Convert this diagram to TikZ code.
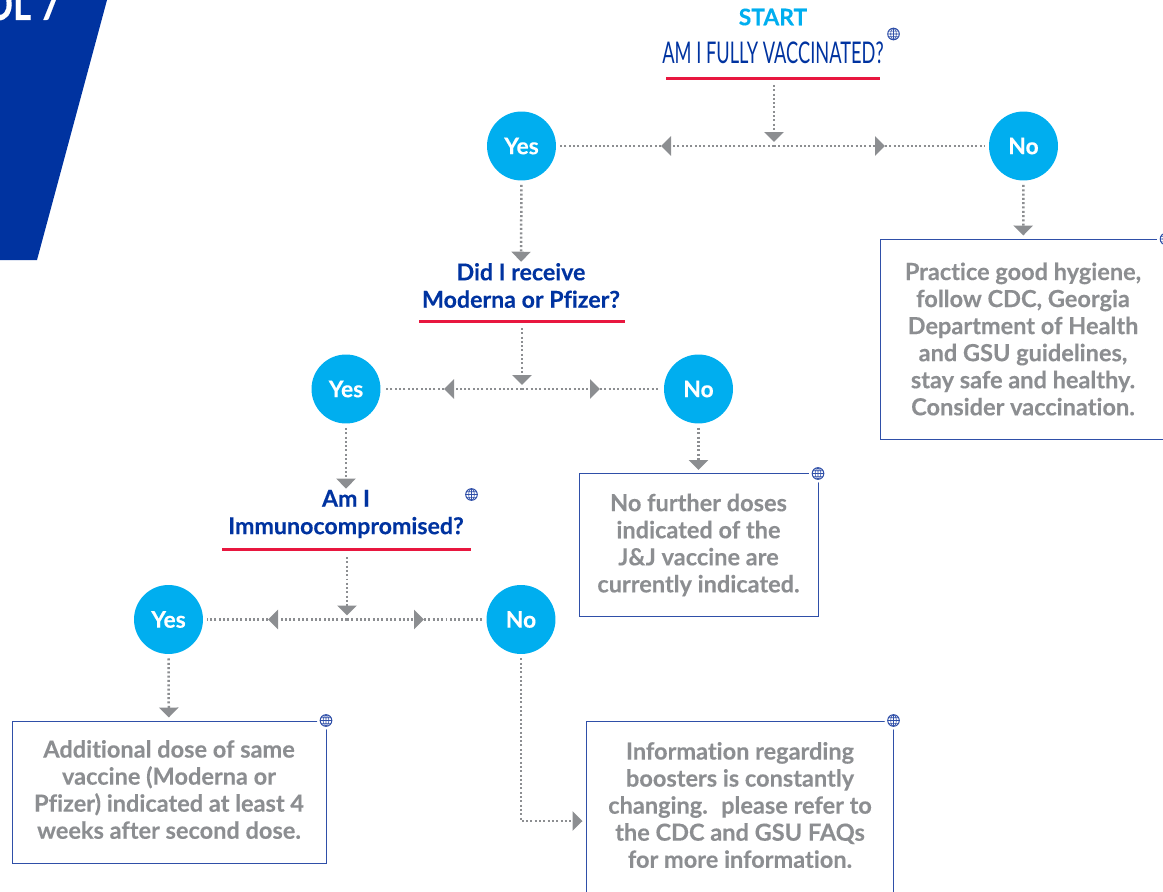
\documentclass[tikz,border=0pt]{standalone}
\usepackage{fontspec}
\setmainfont{Lato}[Ligatures=NoCommon,BoldFeatures={FakeBold=0.25}]
\usetikzlibrary{arrows.meta}
\definecolor{navy}{HTML}{0033A0}
\definecolor{sky}{HTML}{00AEEF}
\definecolor{crimson}{HTML}{E8173F}
\definecolor{ash}{HTML}{8C8E91}
\definecolor{edge}{HTML}{2F4FA8}
\tikzset{
  answer/.style={circle,fill=sky,text=white,minimum size=1.38cm,inner sep=0pt,outer sep=0.09cm,font=\bfseries\fontsize{13}{15.4}\selectfont},
  question/.style={text=navy,align=center,inner sep=0.02cm,font=\bfseries\fontsize{13.2}{15.6}\selectfont},
  notetext/.style={text=ash,align=center,inner sep=0pt,font=\bfseries\fontsize{13.4}{15.4}\selectfont},
  note/.style={notetext,draw=edge,line width=0.018cm,outer sep=0.07cm},
  dots/.style={ash,line width=0.05cm,dash pattern=on 0.04cm off 0.046cm},
  flow/.style={dots,-{Triangle[length=0.2cm,width=0.38cm]}},
  rule/.style={crimson,line width=0.06cm},
  globe/.pic={
    \fill[white] (0,0) circle (9);
    \draw[edge,line width=0.02cm] (0,0) circle (5.8);
    \draw[edge,line width=0.012cm] (0,0) ellipse (2.8 and 5.8) (-5.8,0) -- (5.8,0) (0,-5.8) -- (0,5.8) (-5,-2.8) -- (5,-2.8) (-5,2.8) -- (5,2.8);
  }
}
\begin{document}
\begin{tikzpicture}[x=0.02cm,y=-0.02cm]
        \useasboundingbox (0,0) rectangle (1163,892);
        \clip (0,0) rectangle (1163,892);

        \fill[navy] (0,0) -- (107,0) -- (37,260) -- (0,260) -- cycle;
        \node[text=white,anchor=base east,inner sep=0pt,font=\bfseries\fontsize{25}{25}\selectfont] (tag) at (60.5,20) {\scalebox{0.8}[1]{OL 7}};

        \node[text=sky,inner sep=0pt,font=\bfseries\fontsize{13}{15}\selectfont] (start) at (773,17) {START};
        \node[text=navy,inner sep=0pt,font=\fontsize{17}{20}\selectfont] (q1) at (773,53) {\scalebox{0.61}[1]{AM I FULLY VACCINATED?}};
        \node[question] (q2) at (521,285.5) {Did I receive\\Moderna or Pfizer?};
        \node[question] (q3) at (346,514) {Am I\\Immunocompromised?};

        \draw[rule] (666,79) -- (880,79);
        \draw[rule] (419,321) -- (625,321);
        \draw[rule] (222,549) -- (471,549);

        \foreach \n/\x/\y in {yes1/521.5/146,yes2/346/389,yes3/168.5/619.5} \node[answer] (\n) at (\x,\y) {Yes};
        \foreach \n/\x/\y in {no1/1023.5/146,no2/698.5/389,no3/521/619.5} \node[answer] (\n) at (\x,\y) {No};

        \node[note,minimum width=5.72cm,minimum height=4cm] (box1) at (1023,339) {Practice good hygiene,\\follow CDC, Georgia\\Department of Health\\and GSU guidelines,\\stay safe and healthy.\\Consider vaccination.};
        \node[note,minimum width=4.78cm,minimum height=2.86cm] (box2) at (698.5,545) {No further doses\\indicated of the\\J\&J vaccine are\\currently indicated.};
        \node[note,minimum width=6.28cm,minimum height=2.84cm] (box3) at (169,792) {};
        \node[notetext] (txt3) at (169,789.5) {Additional dose of same\\vaccine (Moderna or\\Pfizer) indicated at least 4\\weeks after second dose.};
        \node[note,minimum width=6.14cm,minimum height=4cm] (box4) at (739.5,821) {};
        \node[notetext] (txt4) at (740,805) {Information regarding\\boosters is constantly\\changing.~ please refer to\\the CDC and GSU FAQs\\for more information.};

        \coordinate (u1) at (774,85);   \coordinate (j1) at (774,146);
        \coordinate (u2) at (522,328);  \coordinate (j2) at (522,389);
        \coordinate (u3) at (347,557);  \coordinate (j3) at (347,619.5);
        \coordinate (l1) at (661,146);  \coordinate (r1) at (885,146);
        \coordinate (l2) at (444,389);  \coordinate (r2) at (600,389);
        \coordinate (l3) at (268,619.5);\coordinate (r3) at (424,619.5);

        % question down to the junction, then out to both answers
        \foreach \i in {1,2,3} {
            \draw[flow,shorten >=0.08cm] (u\i) -- (j\i);
            \draw[flow] (j\i) -- (l\i);  \draw[dots] (l\i) -- (yes\i);
            \draw[flow] (j\i) -- (r\i);  \draw[dots] (r\i) -- (no\i);
        }

        \draw[flow] (yes1) -- (q2);
        \draw[flow] (yes2) -- (q3);
        \draw[flow] (yes3) -- (box3);
        \draw[flow] (no1) -- (box1);
        \draw[flow] (no2) -- (box2);
        \draw[flow] (no3) |- (box4);

        \foreach \x/\y in {893.5/34,471.5/494.5,818/473.5,326/720.5,893.5/720.5,1166/239} \pic at (\x,\y) {globe};
\end{tikzpicture}
\end{document}
